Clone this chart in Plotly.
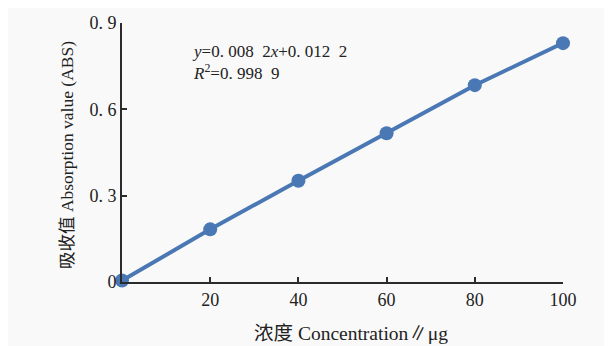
import plotly.graph_objects as go

# Data
concentration = [0, 20, 40, 60, 80, 100]
absorbance = [0.005, 0.183, 0.352, 0.517, 0.684, 0.830]

x_ticks = [20, 40, 60, 80, 100]
x_tick_labels = ["20", "40", "60", "80", "100"]
y_ticks = [0, 0.3, 0.6, 0.9]
y_tick_labels = ["0", "0. 3", "0. 6", "0. 9"]

equation_text = "<i>y</i>=0. 008  2<i>x</i>+0. 012  2"
r2_text = "<i>R</i><sup>2</sup>=0. 998  9"

x_title = "浓度 Concentration∥μg"
y_title = "吸收值 Absorption value (ABS)"

FONT = "Liberation Serif, Noto Sans CJK SC, serif"
BLUE = "#4a78b4"
AXIS = "#2b2b2b"

fig = go.Figure()
fig.add_trace(go.Scatter(
    x=concentration, y=absorbance, mode="lines+markers",
    line=dict(color=BLUE, width=4),
    marker=dict(color=BLUE, size=14),
    cliponaxis=False, showlegend=False,
))

fig.add_annotation(x=15.5, y=0.764, xref="x", yref="y",
                   text=equation_text + "<br>" + r2_text, align="left",
                   showarrow=False, xanchor="left", yanchor="middle",
                   font=dict(family=FONT, size=17, color="#222"))

# Axis titles placed as annotations (paper coordinates) to avoid automargin shifts
fig.add_annotation(x=0.519, y=-0.197, xref="paper", yref="paper", text=x_title,
                   showarrow=False, xanchor="center", yanchor="middle",
                   font=dict(family=FONT, size=19.5, color="#222"))
fig.add_annotation(x=-0.125, y=0.49, xref="paper", yref="paper", text=y_title,
                   showarrow=False, xanchor="center", yanchor="middle", textangle=-90,
                   font=dict(family=FONT, size=17.5, color="#222"))

fig.update_xaxes(range=[0, 100], tickvals=x_ticks, ticktext=x_tick_labels,
                 showline=True, linecolor=AXIS, linewidth=2,
                 ticks="inside", ticklen=5, tickwidth=2, tickcolor=AXIS,
                 showgrid=False, zeroline=False,
                 tickfont=dict(family=FONT, size=18, color="#222"))
fig.update_yaxes(range=[0, 0.9], tickvals=y_ticks, ticktext=y_tick_labels,
                 showline=True, linecolor=AXIS, linewidth=2,
                 ticks="inside", ticklen=5, tickwidth=2, tickcolor=AXIS,
                 showgrid=False, zeroline=False,
                 tickfont=dict(family=FONT, size=18, color="#222"))

fig.update_layout(width=604, height=338,
                  margin=dict(l=114, r=49, t=15, b=64, autoexpand=False),
                  paper_bgcolor="#f9f9f9", plot_bgcolor="#f9f9f9")

fig.write_html("out.html")
